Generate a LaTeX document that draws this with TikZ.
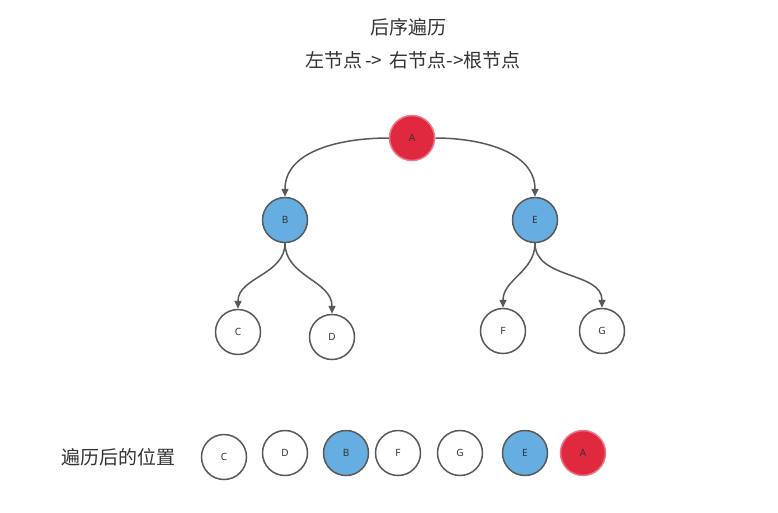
\documentclass[tikz,border=0pt]{standalone}
\usepackage{fontspec}
\setmainfont{Noto Sans}
\newfontfamily\cjk{Noto Sans CJK SC}
\usetikzlibrary{arrows.meta}
\definecolor{redfill}{HTML}{E0293F}
\definecolor{redline}{HTML}{EA7886}
\definecolor{bluefill}{HTML}{66ADE2}
\definecolor{grayline}{HTML}{595959}
\definecolor{txt}{HTML}{333333}
\tikzset{
  tnode/.style={circle, minimum size=45pt, inner sep=0pt, line width=1.5pt, draw=grayline, fill=white, font=\fontsize{10}{11}\selectfont, text=txt},
  rednode/.style={tnode, fill=redfill, draw=redline},
  bluenode/.style={tnode, fill=bluefill},
  edge/.style={draw=grayline, line width=1.5pt, -{Triangle[length=8pt,width=7pt]}},
  cjktext/.style={font=\cjk\fontsize{19}{22}\selectfont, text=txt}
}
\begin{document}
\begin{tikzpicture}[x=1pt,y=-1pt]
\useasboundingbox (0,0) rectangle (778,512);
\node[cjktext] (t1) at (408,27) {后序遍历};
\node[cjktext] (t2) at (413,60) {左节点\,-{>}\, 右节点-{>}根节点};
% tree
\node[rednode] (A) at (412,138) {A};
\node[bluenode] (B) at (285,220) {B};
\node[bluenode] (E) at (535,220) {E};
\node[tnode] (C) at (238,332) {C};
\node[tnode] (D) at (332,337) {D};
\node[tnode] (F) at (503,331) {F};
\node[tnode] (G) at (602,331) {G};
\draw[edge] (A.west) to[out=180,in=90] (B.north);
\draw[edge] (A.east) to[out=0,in=90] (E.north);
\draw[edge] (B.south) to[out=-90,in=90] (C.north);
\draw[edge] (B.south) to[out=-90,in=90] (D.north);
\draw[edge] (E.south) to[out=-90,in=90] (F.north);
\draw[edge] (E.south) to[out=-90,in=90] (G.north);
% bottom row
\node[cjktext] (lbl) at (118,457) {遍历后的位置};
\node[tnode] (c2) at (224,457) {C};
\node[tnode] (d2) at (285,453) {D};
\node[bluenode] (b2) at (346,453) {B};
\node[tnode] (f2) at (398,453) {F};
\node[tnode] (g2) at (460,453) {G};
\node[bluenode] (e2) at (525,453) {E};
\node[rednode] (a2) at (583,453) {A};
\end{tikzpicture}
\end{document}
